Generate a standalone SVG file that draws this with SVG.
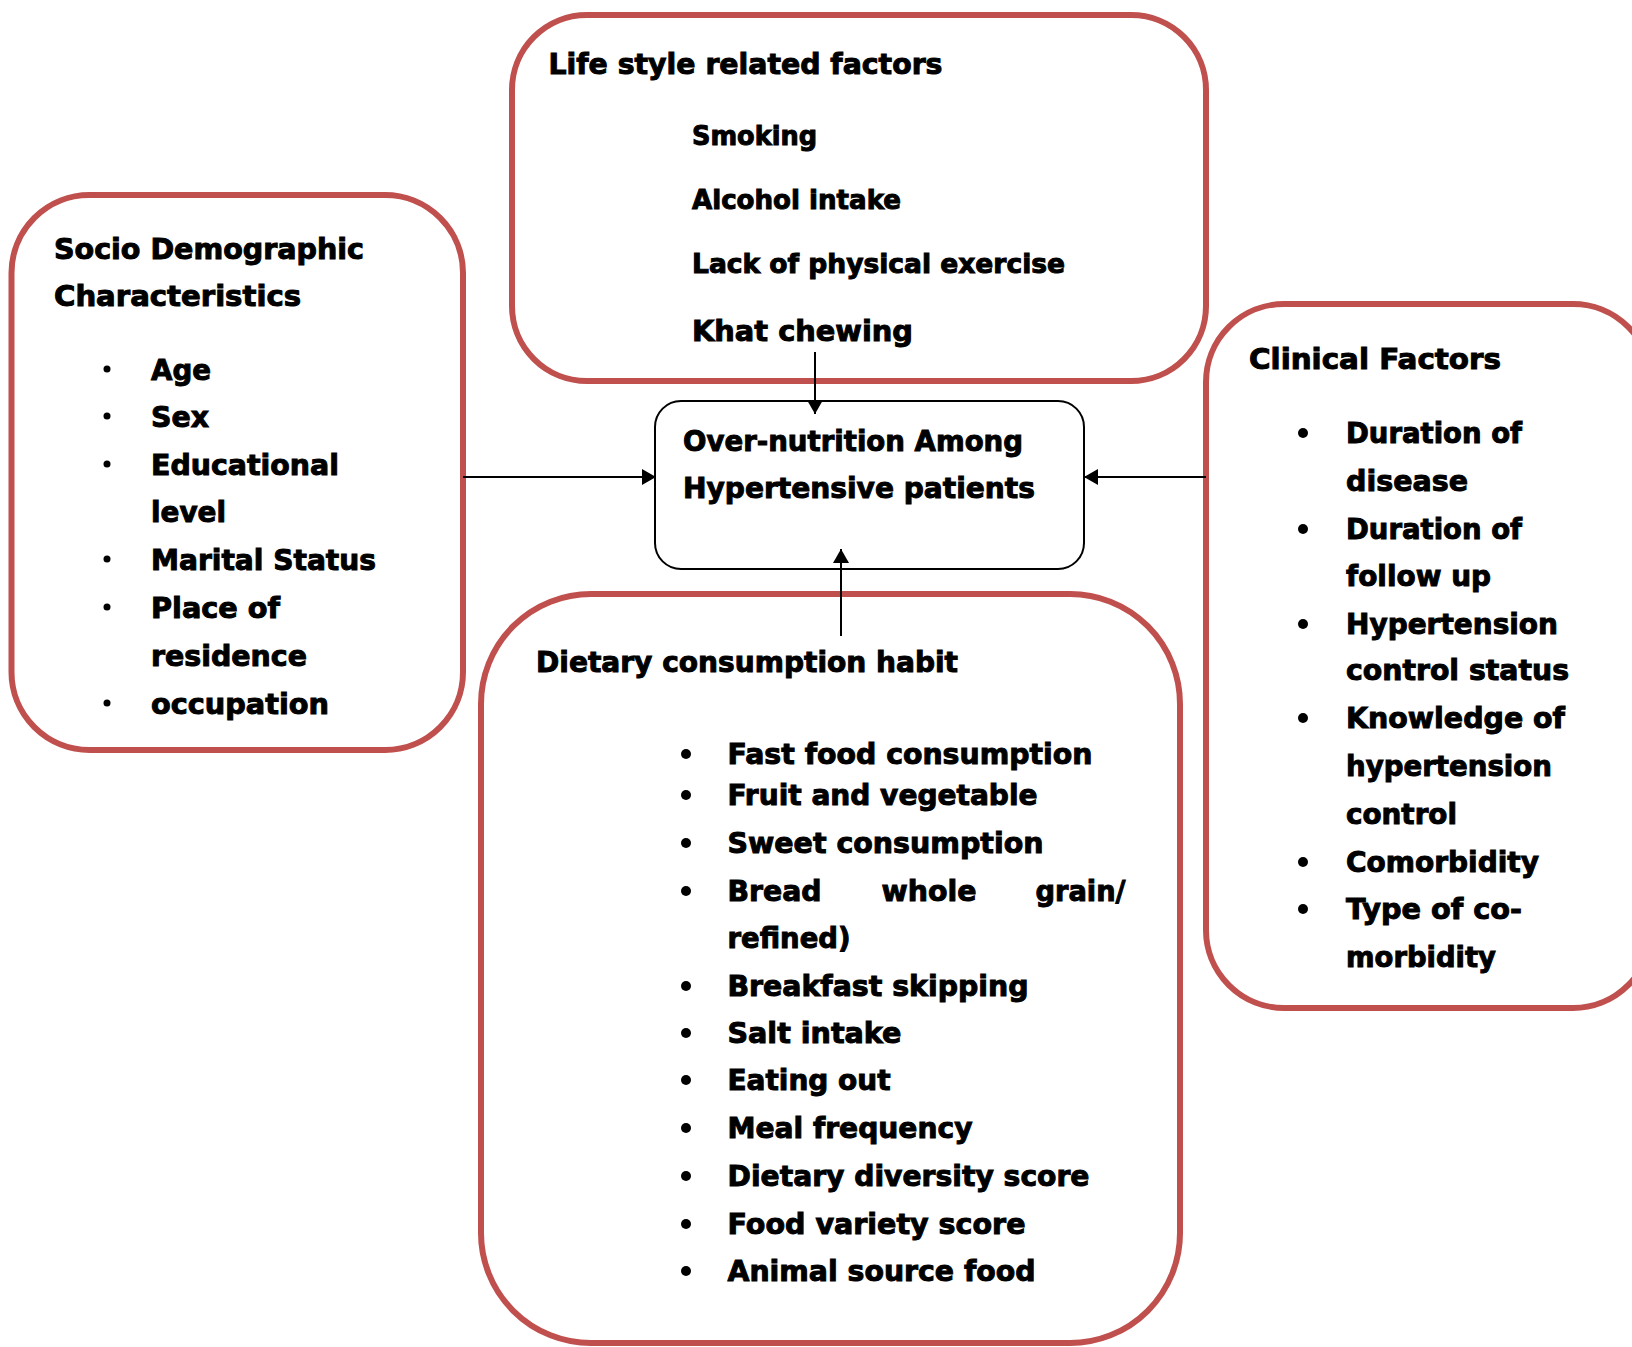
<svg xmlns="http://www.w3.org/2000/svg" width="1632" height="1347" viewBox="0 0 1632 1347">
<style>
.box{fill:none;stroke:#C0504D;stroke-width:6}
.core{fill:#fff;stroke:#000;stroke-width:2}
.t{font-family:"DejaVu Sans","Liberation Sans",sans-serif;font-weight:bold;font-size:29px;fill:#000;stroke:#000;stroke-width:1}
.s{font-size:26.5px}
.b{fill:#000}
.c{stroke:#000;stroke-width:2;fill:none;marker-end:url(#ah)}
</style>
<defs>
<marker id="ah" markerUnits="userSpaceOnUse" markerWidth="16" markerHeight="16" refX="14" refY="8" orient="auto">
<path d="M0,0 L14,8 L0,16 z" fill="#000"/>
</marker>
</defs>
<rect x="0" y="0" width="1632" height="1347" fill="#fff"/>

<g id="socio">
<rect class="box" x="11.5" y="195" width="451.5" height="555" rx="78" ry="78"/>
<text class="t" x="54" y="259" textLength="310" lengthAdjust="spacingAndGlyphs">Socio Demographic</text>
<text class="t" x="54" y="306" textLength="247" lengthAdjust="spacingAndGlyphs">Characteristics</text>
<circle class="b" cx="107" cy="369" r="3.5"/>
<text class="t" x="151" y="380" textLength="60" lengthAdjust="spacingAndGlyphs">Age</text>
<circle class="b" cx="107" cy="416" r="3.5"/>
<text class="t" x="151" y="427" textLength="58" lengthAdjust="spacingAndGlyphs">Sex</text>
<circle class="b" cx="107" cy="464" r="3.5"/>
<text class="t" x="151" y="475" textLength="188" lengthAdjust="spacingAndGlyphs">Educational</text>
<text class="t" x="151" y="522" textLength="75" lengthAdjust="spacingAndGlyphs">level</text>
<circle class="b" cx="107" cy="559" r="3.5"/>
<text class="t" x="151" y="570" textLength="225" lengthAdjust="spacingAndGlyphs">Marital Status</text>
<circle class="b" cx="107" cy="607" r="3.5"/>
<text class="t" x="151" y="618" textLength="129" lengthAdjust="spacingAndGlyphs">Place of</text>
<text class="t" x="151" y="666" textLength="156" lengthAdjust="spacingAndGlyphs">residence</text>
<circle class="b" cx="107" cy="703" r="3.5"/>
<text class="t" x="151" y="714" textLength="178" lengthAdjust="spacingAndGlyphs">occupation</text>
</g>

<g id="lifestyle">
<rect class="box" x="512" y="15" width="694" height="366" rx="75" ry="75"/>
<text class="t" x="548.5" y="74" textLength="394" lengthAdjust="spacingAndGlyphs">Life style related factors</text>
<text class="t s" x="692" y="145" textLength="125" lengthAdjust="spacingAndGlyphs">Smoking</text>
<text class="t s" x="692" y="209" textLength="209" lengthAdjust="spacingAndGlyphs">Alcohol intake</text>
<text class="t s" x="692" y="273" textLength="373" lengthAdjust="spacingAndGlyphs">Lack of physical exercise</text>
<text class="t" x="692" y="341" textLength="221" lengthAdjust="spacingAndGlyphs">Khat chewing</text>
</g>

<g id="clinical">
<rect class="box" x="1206" y="304" width="445" height="704" rx="78" ry="78"/>
<text class="t" x="1249" y="369" textLength="252" lengthAdjust="spacingAndGlyphs">Clinical Factors</text>
<circle class="b" cx="1303" cy="433" r="5"/>
<text class="t" x="1346" y="443" textLength="176" lengthAdjust="spacingAndGlyphs">Duration of</text>
<text class="t" x="1346" y="491" textLength="122" lengthAdjust="spacingAndGlyphs">disease</text>
<circle class="b" cx="1303" cy="529" r="5"/>
<text class="t" x="1346" y="539" textLength="176" lengthAdjust="spacingAndGlyphs">Duration of</text>
<text class="t" x="1346" y="586" textLength="145" lengthAdjust="spacingAndGlyphs">follow up</text>
<circle class="b" cx="1303" cy="624" r="5"/>
<text class="t" x="1346" y="634" textLength="212" lengthAdjust="spacingAndGlyphs">Hypertension</text>
<text class="t" x="1346" y="680" textLength="223" lengthAdjust="spacingAndGlyphs">control status</text>
<circle class="b" cx="1303" cy="718" r="5"/>
<text class="t" x="1346" y="728" textLength="219" lengthAdjust="spacingAndGlyphs">Knowledge of</text>
<text class="t" x="1346" y="776" textLength="206" lengthAdjust="spacingAndGlyphs">hypertension</text>
<text class="t" x="1346" y="824" textLength="111" lengthAdjust="spacingAndGlyphs">control</text>
<circle class="b" cx="1303" cy="862" r="5"/>
<text class="t" x="1346" y="872" textLength="193" lengthAdjust="spacingAndGlyphs">Comorbidity</text>
<circle class="b" cx="1303" cy="909" r="5"/>
<text class="t" x="1346" y="919" textLength="176" lengthAdjust="spacingAndGlyphs">Type of co-</text>
<text class="t" x="1346" y="967" textLength="150" lengthAdjust="spacingAndGlyphs">morbidity</text>
</g>

<g id="dietary">
<rect class="box" x="481" y="594" width="699" height="749" rx="110" ry="110"/>
<text class="t" x="536" y="672" textLength="422" lengthAdjust="spacingAndGlyphs">Dietary consumption habit</text>
<circle class="b" cx="686" cy="754" r="5"/>
<text class="t" x="727.5" y="764" textLength="365" lengthAdjust="spacingAndGlyphs">Fast food consumption</text>
<circle class="b" cx="686" cy="795" r="5"/>
<text class="t" x="727.5" y="805" textLength="310" lengthAdjust="spacingAndGlyphs">Fruit and vegetable</text>
<circle class="b" cx="686" cy="843" r="5"/>
<text class="t" x="727.5" y="853" textLength="316" lengthAdjust="spacingAndGlyphs">Sweet consumption</text>
<circle class="b" cx="686" cy="891" r="5"/>
<text class="t" x="727.5" y="901" textLength="94" lengthAdjust="spacingAndGlyphs">Bread</text>
<text class="t" x="881.5" y="901" textLength="95" lengthAdjust="spacingAndGlyphs">whole</text>
<text class="t" x="1035.5" y="901" textLength="90" lengthAdjust="spacingAndGlyphs">grain/</text>
<text class="t" x="727.5" y="948" textLength="123" lengthAdjust="spacingAndGlyphs">refined)</text>
<circle class="b" cx="686" cy="986" r="5"/>
<text class="t" x="727.5" y="996" textLength="301" lengthAdjust="spacingAndGlyphs">Breakfast skipping</text>
<circle class="b" cx="686" cy="1033" r="5"/>
<text class="t" x="727.5" y="1043" textLength="174" lengthAdjust="spacingAndGlyphs">Salt intake</text>
<circle class="b" cx="686" cy="1080" r="5"/>
<text class="t" x="727.5" y="1090" textLength="163" lengthAdjust="spacingAndGlyphs">Eating out</text>
<circle class="b" cx="686" cy="1128" r="5"/>
<text class="t" x="727.5" y="1138" textLength="245" lengthAdjust="spacingAndGlyphs">Meal frequency</text>
<circle class="b" cx="686" cy="1176" r="5"/>
<text class="t" x="727.5" y="1186" textLength="362" lengthAdjust="spacingAndGlyphs">Dietary diversity score</text>
<circle class="b" cx="686" cy="1224" r="5"/>
<text class="t" x="727.5" y="1234" textLength="298" lengthAdjust="spacingAndGlyphs">Food variety score</text>
<circle class="b" cx="686" cy="1271" r="5"/>
<text class="t" x="727.5" y="1281" textLength="308" lengthAdjust="spacingAndGlyphs">Animal source food</text>
</g>

<g id="outcome">
<rect class="core" x="655" y="401" width="429" height="168" rx="26" ry="26"/>
<text class="t" x="683" y="451" textLength="340" lengthAdjust="spacingAndGlyphs">Over-nutrition Among</text>
<text class="t" x="683" y="498" textLength="352" lengthAdjust="spacingAndGlyphs">Hypertensive patients</text>
</g>

<g id="connectors">
<line class="c" x1="815" y1="352" x2="815" y2="414"/>
<line class="c" x1="463" y1="477" x2="656" y2="477"/>
<line class="c" x1="1206" y1="477" x2="1084" y2="477"/>
<line class="c" x1="841" y1="636" x2="841" y2="549"/>
</g>
</svg>
